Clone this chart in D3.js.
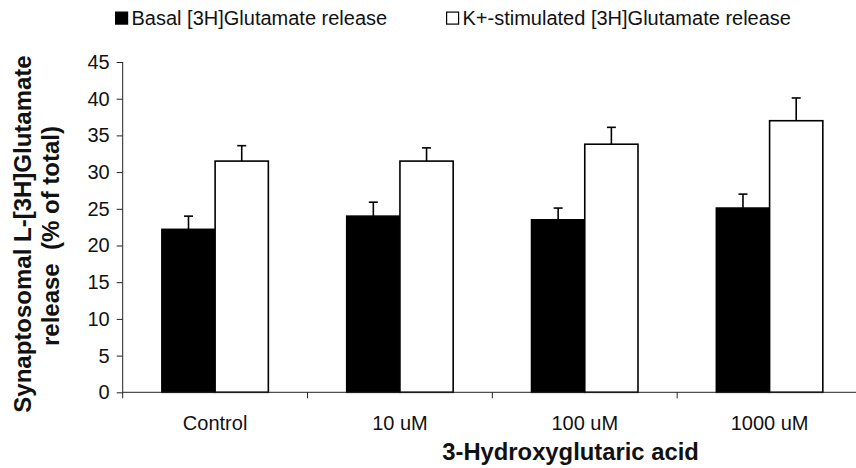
<!DOCTYPE html>
<html>
<head>
<meta charset="utf-8">
<script src="https://cdn.jsdelivr.net/npm/d3@7"></script>
<style>
  html, body { margin: 0; padding: 0; background: #fff; }
  svg { display: block; font-family: "Liberation Sans", Arial, sans-serif; }
  .pre { white-space: pre; }
</style>
</head>
<body>
<svg id="chart" width="856" height="468"></svg>
<script>
// Glutamate release per treatment group (% of total), mean and SEM
const categories = ["Control", "10 uM", "100 uM", "1000 uM"];
const seriesNames = ["Basal [3H]Glutamate release", "K+-stimulated [3H]Glutamate release"];
const basalValues = [22.2, 24.0, 23.5, 25.1];
const basalErrors = [1.8, 1.9, 1.6, 1.9];
const stimValues = [31.5, 31.5, 33.8, 37.0];
const stimErrors = [2.1, 1.8, 2.3, 3.1];
const yTicks = [0, 5, 10, 15, 20, 25, 30, 35, 40, 45];

const svg = d3.select("#chart");
const plotLeft = 122.7, plotBottom = 392.3, plotTop = 62, plotRight = 862;

const x = d3.scaleBand().domain(categories).range([plotLeft, plotRight])
  .paddingInner(0.424).paddingOuter(0.212);
const xSub = d3.scaleBand().domain([0, 1]).range([0, x.bandwidth()]);
const y = d3.scaleLinear().domain([0, 45]).range([plotBottom, plotTop]);

const rows = categories.map((c, i) => ({
  cat: c,
  vals: [
    { s: 0, v: basalValues[i], e: basalErrors[i] },
    { s: 1, v: stimValues[i], e: stimErrors[i] }
  ]
}));

const plot = svg.append("g");

// Bars
const groups = plot.selectAll("g.grp").data(rows).join("g")
  .attr("class", "grp")
  .attr("transform", d => `translate(${x(d.cat)},0)`);

groups.selectAll("rect").data(d => d.vals).join("rect")
  .attr("x", d => xSub(d.s))
  .attr("y", d => y(d.v))
  .attr("width", xSub.bandwidth())
  .attr("height", d => plotBottom - y(d.v))
  .attr("fill", d => d.s === 0 ? "#000" : "#fff")
  .attr("stroke", "#000")
  .attr("stroke-width", 1.6);

// Upper error bars
const eb = groups.selectAll("g.err").data(d => d.vals).join("g").attr("class", "err");
eb.append("line")
  .attr("x1", d => xSub(d.s) + xSub.bandwidth() / 2)
  .attr("x2", d => xSub(d.s) + xSub.bandwidth() / 2)
  .attr("y1", d => y(d.v))
  .attr("y2", d => y(d.v + d.e))
  .attr("stroke", "#000").attr("stroke-width", 1.6);
eb.append("line")
  .attr("x1", d => xSub(d.s) + xSub.bandwidth() / 2 - 4.5)
  .attr("x2", d => xSub(d.s) + xSub.bandwidth() / 2 + 4.5)
  .attr("y1", d => y(d.v + d.e))
  .attr("y2", d => y(d.v + d.e))
  .attr("stroke", "#000").attr("stroke-width", 1.6);

// X axis: baseline with ticks at the category boundaries
const xAxis = plot.append("g");
xAxis.append("line")
  .attr("x1", plotLeft).attr("x2", plotRight).attr("y1", plotBottom).attr("y2", plotBottom)
  .attr("stroke", "#222").attr("stroke-width", 1);
const boundaries = categories.map(c => x(c) - x.step() * x.paddingInner() / 2);
xAxis.selectAll("line.tk").data(boundaries).join("line").attr("class", "tk")
  .attr("x1", d => d).attr("x2", d => d)
  .attr("y1", plotBottom).attr("y2", plotBottom + 6)
  .attr("stroke", "#222").attr("stroke-width", 1);
xAxis.selectAll("text").data(categories).join("text")
  .attr("x", d => x(d) + x.bandwidth() / 2)
  .attr("y", 430)
  .attr("text-anchor", "middle")
  .attr("font-size", 20)
  .attr("fill", "#111")
  .text(d => d);

// Y axis
const yAxis = svg.append("g").attr("transform", `translate(${plotLeft},0)`)
  .call(d3.axisLeft(y).tickValues(yTicks).tickSize(6).tickPadding(7).tickFormat(d3.format("d")));
yAxis.select(".domain").attr("stroke", "#222").attr("d", `M0,${plotTop}V${plotBottom}`);
yAxis.selectAll(".tick line").attr("stroke", "#222");
yAxis.selectAll(".tick text")
  .attr("font-size", 20)
  .attr("fill", "#111")
  .attr("font-family", "Liberation Sans, Arial, sans-serif");

// Axis titles
svg.append("text")
  .attr("transform", "translate(31,234) rotate(-90)")
  .attr("text-anchor", "middle")
  .attr("font-size", 24).attr("font-weight", "bold").attr("fill", "#111")
  .text("Synaptosomal L-[3H]Glutamate");
svg.append("text")
  .attr("class", "pre")
  .attr("transform", "translate(59,236) rotate(-90)")
  .attr("text-anchor", "middle")
  .attr("font-size", 24).attr("font-weight", "bold").attr("fill", "#111")
  .text("release  (% of total)");

svg.append("text")
  .attr("x", 570.5).attr("y", 460)
  .attr("text-anchor", "middle")
  .attr("font-size", 23.8).attr("font-weight", "bold").attr("fill", "#111")
  .text("3-Hydroxyglutaric acid");

// Legend
const legendX = [115, 446];
const legend = svg.selectAll("g.leg").data(seriesNames).join("g").attr("class", "leg")
  .attr("transform", (d, i) => `translate(${legendX[i]},11.5)`);
legend.append("rect")
  .attr("x", 0.6).attr("y", 0.6).attr("width", 12).attr("height", 12)
  .attr("fill", (d, i) => i === 0 ? "#000" : "#fff")
  .attr("stroke", "#000").attr("stroke-width", 1.2);
legend.append("text")
  .attr("x", 16.5).attr("y", 13.5)
  .attr("font-size", 20).attr("fill", "#111")
  .text(d => d);
</script>
</body>
</html>
